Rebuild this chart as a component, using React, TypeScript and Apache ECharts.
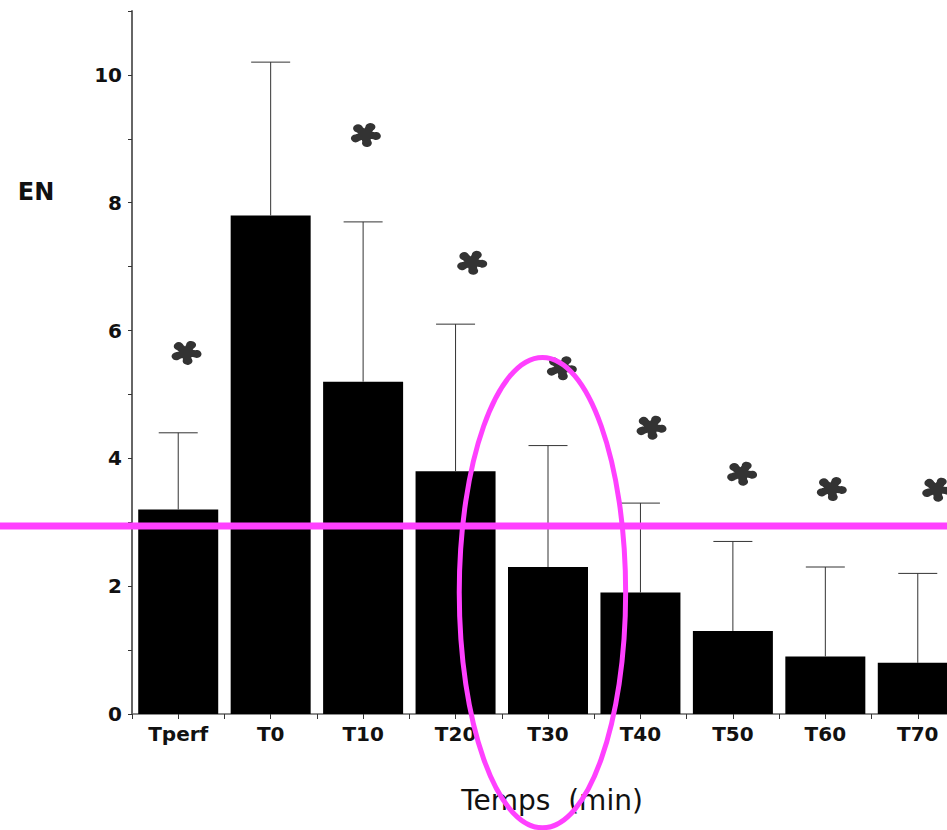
import React, { useEffect, useRef } from "react";
import * as echarts from "echarts";

const categories = ["Tperf", "T0", "T10", "T20", "T30", "T40", "T50", "T60", "T70"];
const means = [3.2, 7.8, 5.2, 3.8, 2.3, 1.9, 1.3, 0.9, 0.8];
const upper = [4.4, 10.2, 7.7, 6.1, 4.2, 3.3, 2.7, 2.3, 2.2];
const starX = [0.59, 2.53, 3.68, 4.65, 5.62, 6.6, 7.57, 8.71];
const starY = [5.65, 9.06, 7.06, 5.41, 4.48, 3.76, 3.52, 3.51];
const yTickLabels = [0, 2, 4, 6, 8, 10];
const thresholdValue = 2.94;
const ellipseCenter = [4.44, 1.9];
const ellipseRadius = [0.9, 3.68];

function asteriskPath(): string {
  const L = 8;
  const w = 3.3;
  const r = 3.7;
  let d = "";
  for (let k = 0; k < 5; k++) {
    const a = ((-62 + 72 * k) * Math.PI) / 180;
    const c = Math.cos(a);
    const s = Math.sin(a);
    const rot = (u: number, v: number) => [u * c - v * s, u * s + v * c].map((n) => n.toFixed(3)).join(" ");
    d += `M${rot(-1, -w)} L${rot(L, -w)} L${rot(L, w)} L${rot(-1, w)} Z `;
    d += `M${rot(L + r, 0)} A${r} ${r} 0 1 1 ${rot(L - r, 0)} A${r} ${r} 0 1 1 ${rot(L + r, 0)} Z `;
  }
  return "path://" + d;
}

const FONT = "DejaVu Sans";
const MAGENTA = "#ff40ff";

export default function App() {
  const ref = useRef<HTMLDivElement>(null);
  useEffect(() => {
    if (!ref.current) return;
    const chart = echarts.init(ref.current, undefined, { renderer: "svg" });
    const option: any = {
      animation: false,
      backgroundColor: "#ffffff",
      grid: { left: 132, right: 6, top: 11, bottom: 116, containLabel: false },
      xAxis: [
        {
          type: "category",
          data: categories,
          axisLine: { show: true, lineStyle: { color: "#666", width: 1.5 } },
          axisTick: { show: true, alignWithLabel: true, length: 5, lineStyle: { color: "#333" } },
          axisLabel: { fontFamily: FONT, fontWeight: "bold", fontSize: 20, color: "#111", margin: 10 },
          splitLine: { show: false },
        },
        {
          type: "category",
          data: categories,
          position: "bottom",
          axisLine: { show: false },
          axisTick: { show: true, length: 5, lineStyle: { color: "#333" } },
          axisLabel: { show: false },
          splitLine: { show: false },
        },
        {
          type: "value",
          min: 0,
          max: 9,
          show: false,
          splitLine: { show: false },
        },
      ],
      yAxis: [
        {
          type: "value",
          min: 0,
          max: 11,
          interval: 1,
          axisLine: { show: true, lineStyle: { color: "#666", width: 2 } },
          axisTick: { show: true, length: 4, lineStyle: { color: "#333" } },
          axisLabel: {
            fontFamily: FONT,
            fontWeight: "bold",
            fontSize: 20,
            color: "#111",
            margin: 10,
            formatter: (v: number) => (yTickLabels.includes(v) ? String(v) : ""),
          },
          splitLine: { show: false },
        },
      ],
      series: [
        {
          type: "bar",
          xAxisIndex: 0,
          yAxisIndex: 0,
          data: means,
          barWidth: 80,
          itemStyle: { color: "#000000" },
          z: 2,
        },
        {
          type: "custom",
          xAxisIndex: 0,
          yAxisIndex: 0,
          data: categories.map((c, i) => [i, means[i], upper[i]]),
          renderItem: (params: any, api: any) => {
            const x = api.value(0);
            const p0 = api.coord([x, api.value(1)]);
            const p1 = api.coord([x, api.value(2)]);
            const half = 19.5;
            const style = { stroke: "#333", lineWidth: 1 };
            return {
              type: "group",
              children: [
                { type: "line", shape: { x1: p0[0], y1: p0[1], x2: p1[0], y2: p1[1] }, style },
                { type: "line", shape: { x1: p1[0] - half, y1: p1[1], x2: p1[0] + half, y2: p1[1] }, style },
              ],
            };
          },
          z: 3,
        },
        {
          type: "scatter",
          xAxisIndex: 2,
          yAxisIndex: 0,
          data: starX.map((x, i) => [x, starY[i]]),
          symbol: asteriskPath(),
          symbolSize: [30, 24],
          symbolKeepAspect: false,
          itemStyle: { color: "#333333", opacity: 1 },
          z: 4,
        },
      ],
    };
    chart.setOption(option);

    const finder = { xAxisIndex: 2, yAxisIndex: 0 } as any;
    const c = chart.convertToPixel(finder, ellipseCenter) as number[];
    const e = chart.convertToPixel(finder, [ellipseCenter[0] + ellipseRadius[0], ellipseCenter[1] + ellipseRadius[1]]) as number[];
    const t = chart.convertToPixel(finder, [0, thresholdValue]) as number[];

    chart.setOption({
      graphic: [
        {
          type: "line",
          shape: { x1: 0, y1: t[1], x2: 947, y2: t[1] },
          style: { stroke: MAGENTA, lineWidth: 7 },
          z: 100,
        },
        {
          type: "ellipse",
          shape: { cx: c[0], cy: c[1], rx: e[0] - c[0], ry: c[1] - e[1] },
          style: { fill: "none", stroke: MAGENTA, lineWidth: 5 },
          z: 100,
        },
        {
          type: "text",
          x: 36,
          y: 192,
          style: {
            text: "EN",
            fontFamily: FONT,
            fontWeight: "bold",
            fontSize: 24,
            fill: "#111",
            align: "center",
            verticalAlign: "middle",
          },
        },
        {
          type: "text",
          x: 552,
          y: 800,
          style: {
            text: "Temps  (min)",
            fontFamily: FONT,
            fontSize: 28,
            fill: "#111",
            align: "center",
            verticalAlign: "middle",
          },
        },
      ],
    });

    return () => chart.dispose();
  }, []);
  return <div ref={ref} style={{ position: "fixed", left: 0, top: 0, width: 970, height: 830 }} />;
}
